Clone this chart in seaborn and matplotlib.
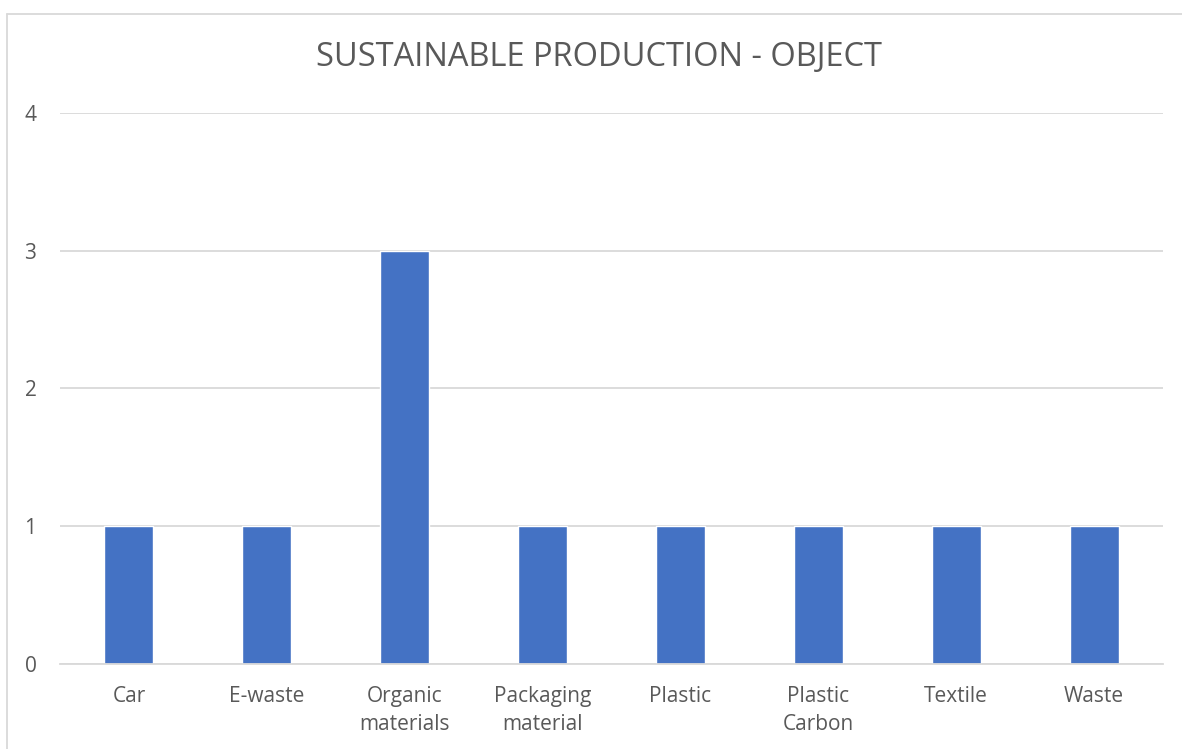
import matplotlib
matplotlib.use("Agg")
import matplotlib.pyplot as plt
from matplotlib.lines import Line2D
import seaborn as sns
import pandas as pd

categories = ["Car", "E-waste", "Organic\nmaterials", "Packaging\nmaterial",
              "Plastic", "Plastic\nCarbon", "Textile", "Waste"]
counts = [1, 1, 3, 1, 1, 1, 1, 1]
y_ticks = [0, 1, 2, 3, 4]

title_text = "SUSTAINABLE PRODUCTION - OBJECT"
bar_color = "#4472C4"
grid_color = "#D9D9D9"
text_color = "#595959"

sns.set_theme(style="white")
plt.rcParams["font.family"] = ["Open Sans", "DejaVu Sans"]

df = pd.DataFrame({"category": categories, "count": counts})

fig = plt.figure(figsize=(11.82, 7.49), dpi=100)
ax = fig.add_axes([60 / 1182, 1 - 664 / 749, 1103 / 1182, 551 / 749])

sns.barplot(data=df, x="category", y="count", color=bar_color,
            width=0.355, saturation=1, ax=ax, zorder=3)

ax.set_ylim(0, 4)
ax.set_xlim(-0.5, len(categories) - 0.5)
ax.set_yticks(y_ticks)
ax.yaxis.grid(True, color=grid_color, linewidth=1.3, zorder=0)
ax.xaxis.grid(False)
for side in ["top", "right", "left"]:
    ax.spines[side].set_visible(False)
ax.spines["bottom"].set_color(grid_color)
ax.spines["bottom"].set_linewidth(1.3)
ax.spines["bottom"].set_zorder(4)

ax.tick_params(axis="both", length=0, labelsize=15, colors=text_color)
ax.tick_params(axis="y", pad=17)
ax.tick_params(axis="x", pad=16)
for lbl in ax.get_xticklabels():
    lbl.set_linespacing(1.45)
ax.set_xlabel("")
ax.set_ylabel("")

fig.text(599 / 1182, 1 - 58 / 749, title_text, ha="center", va="center",
         fontsize=23.5, color=text_color)

# chart frame: top and left edges
fig.add_artist(Line2D([7 / 1182, 1.0], [1 - 14 / 749, 1 - 14 / 749],
                      transform=fig.transFigure, color=grid_color, linewidth=1.3))
fig.add_artist(Line2D([7 / 1182, 7 / 1182], [0.0, 1 - 14 / 749],
                      transform=fig.transFigure, color=grid_color, linewidth=1.3))

fig.savefig("out.png", dpi=100, facecolor="white")
